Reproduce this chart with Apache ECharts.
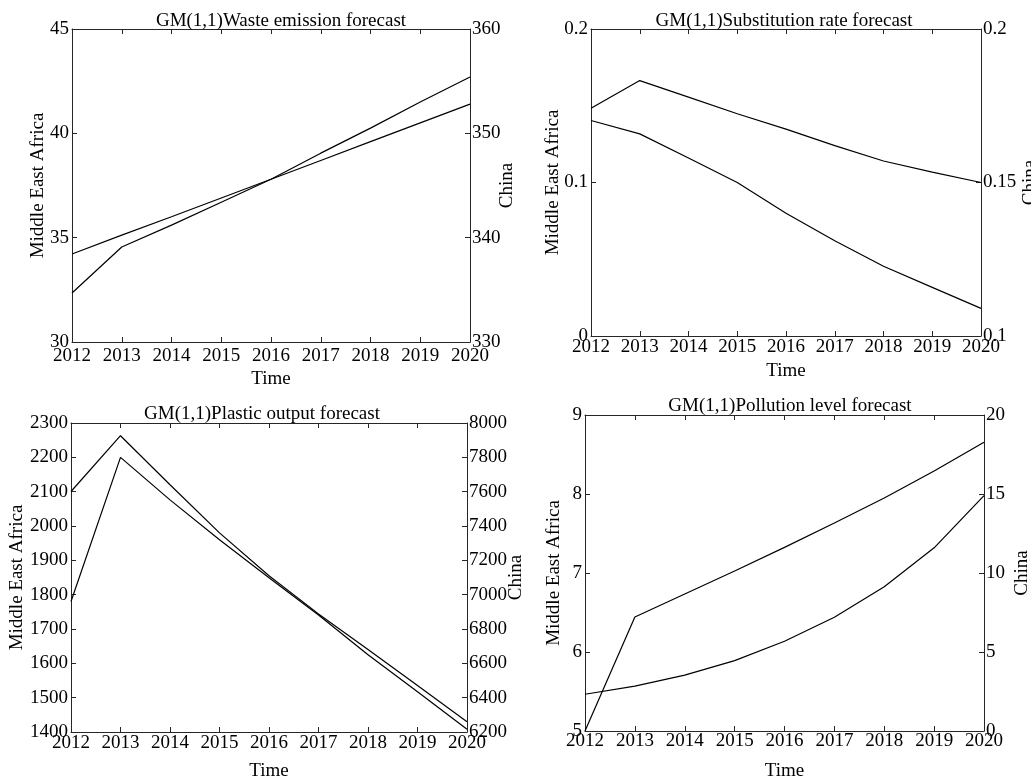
<!DOCTYPE html>
<html>
<head>
<meta charset="utf-8">
<script src="https://cdn.jsdelivr.net/npm/echarts@6/dist/echarts.min.js"></script>
<style>
  html, body { margin: 0; padding: 0; background: #fff; }
  #chart { width: 1031px; height: 781px; }
</style>
</head>
<body>
<div id="chart"></div>
<script>
// Forecast years shared by all four panels
const years = ['2012', '2013', '2014', '2015', '2016', '2017', '2018', '2019', '2020'];

// Waste emission
const wasteMea   = [34.22, 35.12, 36.0, 36.9, 37.8, 38.7, 39.6, 40.5, 41.4];
const wasteChina = [334.7, 339.1, 341.2, 343.4, 345.6, 348.1, 350.5, 353.0, 355.4];

// Substitution rate
const substMea   = [0.1404, 0.1317, 0.116, 0.100, 0.080, 0.062, 0.0454, 0.0317, 0.018];
const substChina = [0.1742, 0.1832, 0.1778, 0.1724, 0.1674, 0.1620, 0.1570, 0.1534, 0.1500];

// Plastic output
const plasticMea   = [1780, 2200, 2076, 1960, 1849, 1741, 1625, 1517, 1408];
const plasticChina = [7601, 7926, 7640, 7360, 7110, 6888, 6681, 6471, 6260];

// Pollution level
const pollutionMea   = [5.465, 5.568, 5.707, 5.891, 6.136, 6.44, 6.825, 7.319, 7.98];
const pollutionChina = [0, 7.22, 8.67, 10.13, 11.62, 13.17, 14.75, 16.46, 18.28];

// Panel titles and axis ranges
const titles = [
  'GM(1,1)Waste emission forecast',
  'GM(1,1)Substitution rate forecast',
  'GM(1,1)Plastic output forecast',
  'GM(1,1)Pollution level forecast'
];
const leftRanges  = [[30, 45, 5], [0, 0.2, 0.1], [1400, 2300, 100], [5, 9, 1]];
const rightRanges = [[330, 360, 10], [0.1, 0.2, 0.05], [6200, 8000, 200], [0, 20, 5]];
const seriesMea   = [wasteMea, substMea, plasticMea, pollutionMea];
const seriesChina = [wasteChina, substChina, plasticChina, pollutionChina];

// Layout of each panel (plot box in pixels and label gaps)
const layout = [
  { left: 72,  top: 29,  width: 398, height: 313, titleX: 276, titleY: 7,   leftGap: 24, rightGap: 28, timeGap: 28, xMargin: 5 },
  { left: 591, top: 29,  width: 390, height: 307, titleX: 779, titleY: 7,   leftGap: 28, rightGap: 40, timeGap: 26, xMargin: 2 },
  { left: 71,  top: 423, width: 396, height: 309, titleX: 257, titleY: 400, leftGap: 44, rightGap: 40, timeGap: 30, xMargin: 2 },
  { left: 585, top: 415, width: 399, height: 316, titleX: 785, titleY: 392, leftGap: 21, rightGap: 29, timeGap: 31, xMargin: 1 }
];

const FONT = 'Liberation Serif';
const INK = '#000';
const AXIS = '#262626';

// plain numbers, no thousands separators
const plain = v => String(+v.toFixed(6));

const grid = [], xAxis = [], yAxis = [], series = [], title = [];

layout.forEach((p, i) => {
  grid.push({
    left: p.left, top: p.top, width: p.width, height: p.height,
    containLabel: false, outerBoundsMode: 'none'
  });
  title.push({
    text: titles[i], left: p.titleX, top: p.titleY, textAlign: 'center',
    textStyle: { fontFamily: FONT, fontSize: 19, fontWeight: 'normal', color: INK }
  });
  const tick = { show: true, inside: true, length: 5, lineStyle: { color: AXIS, width: 1 } };
  const line = { show: true, lineStyle: { color: AXIS, width: 1 } };
  const nameStyle = { fontFamily: FONT, fontSize: 19, color: INK };
  // bottom axis with year labels
  xAxis.push({
    gridIndex: i, type: 'category', data: years, boundaryGap: false, position: 'bottom',
    axisLine: line, axisTick: Object.assign({ alignWithLabel: true }, tick),
    axisLabel: { fontFamily: FONT, fontSize: 19, color: INK, margin: p.xMargin, interval: 0 },
    splitLine: { show: false },
    name: 'Time', nameLocation: 'middle', nameGap: p.timeGap, nameMoveOverlap: false,
    nameTextStyle: nameStyle
  });
  // top frame edge with ticks
  xAxis.push({
    gridIndex: i, type: 'category', data: years, boundaryGap: false, position: 'top',
    axisLine: line, axisTick: tick, axisLabel: { show: false }, splitLine: { show: false }
  });
  const lr = leftRanges[i], rr = rightRanges[i];
  yAxis.push({
    gridIndex: i, type: 'value', position: 'left', min: lr[0], max: lr[1], interval: lr[2],
    axisLine: line, axisTick: tick, splitLine: { show: false },
    axisLabel: { fontFamily: FONT, fontSize: 19, color: INK, margin: 3, formatter: plain },
    name: 'Middle East Africa', nameLocation: 'middle', nameGap: p.leftGap, nameRotate: 90,
    nameMoveOverlap: false, nameTextStyle: nameStyle
  });
  yAxis.push({
    gridIndex: i, type: 'value', position: 'right', min: rr[0], max: rr[1], interval: rr[2],
    axisLine: line, axisTick: tick, splitLine: { show: false },
    axisLabel: { fontFamily: FONT, fontSize: 19, color: INK, margin: 2, formatter: plain },
    name: 'China', nameLocation: 'middle', nameGap: p.rightGap, nameRotate: 90,
    nameMoveOverlap: false, nameTextStyle: nameStyle
  });
  const lineStyle = { color: INK, width: 1.2 };
  series.push({
    type: 'line', name: 'Middle East Africa', xAxisIndex: 2 * i, yAxisIndex: 2 * i,
    data: seriesMea[i], showSymbol: false, symbol: 'none', lineStyle, itemStyle: { color: INK }, silent: true
  });
  series.push({
    type: 'line', name: 'China', xAxisIndex: 2 * i, yAxisIndex: 2 * i + 1,
    data: seriesChina[i], showSymbol: false, symbol: 'none', lineStyle, itemStyle: { color: INK }, silent: true
  });
});

const chart = echarts.init(document.getElementById('chart'), null, { renderer: 'canvas' });
chart.setOption({
  animation: false,
  backgroundColor: '#fff',
  title, grid, xAxis, yAxis, series
});
</script>
</body>
</html>
